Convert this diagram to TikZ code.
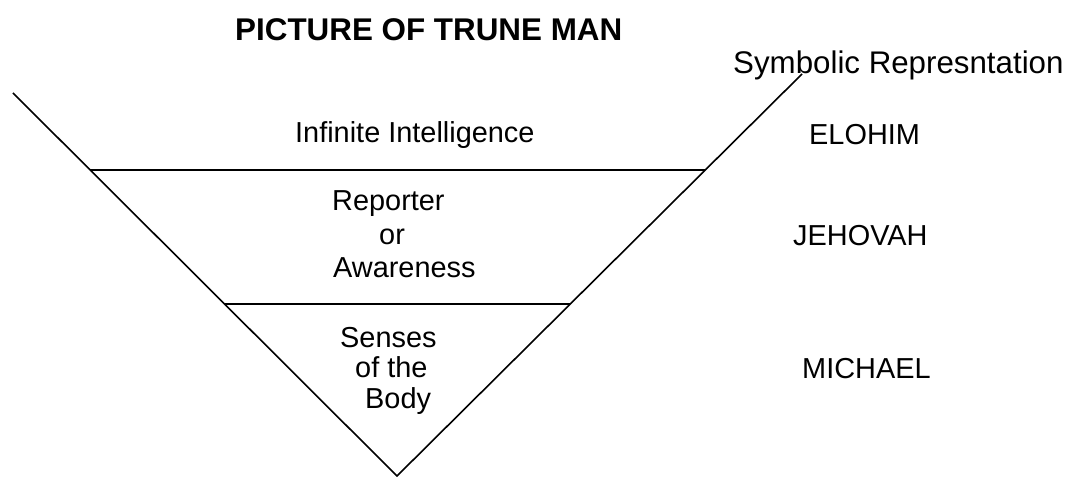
\documentclass[tikz,border=0pt]{standalone}
\usepackage{fontspec}
\setmainfont{Liberation Sans}
\begin{document}
\begin{tikzpicture}[x=1bp,y=-1bp,
  edge/.style={line width=1.6bp,black},
  body/.style={anchor=base west,inner sep=0pt,font=\fontsize{29}{34}\selectfont},
  heading/.style={anchor=base west,inner sep=0pt,font=\fontsize{31.5}{36}\selectfont\bfseries},
  sidehead/.style={anchor=base west,inner sep=0pt,font=\fontsize{31.4}{36}\selectfont}]
\useasboundingbox (0,0) rectangle (1084,477);
% the V outline
\coordinate (topL) at (13,93);
\coordinate (tip) at (397,476);
\coordinate (topR) at (802,74);
\draw[edge,line join=miter] (topL) -- (tip) -- (topR);
% the two dividing levels
\coordinate (l1L) at (90.2,170);
\coordinate (l1R) at (705,170);
\coordinate (l2L) at (224.5,304);
\coordinate (l2R) at (570,304);
\draw[edge] (l1L) -- (l1R);
\draw[edge] (l2L) -- (l2R);
% headings
\node[heading] (title) at (235,41) {PICTURE OF TRUNE MAN};
\node[sidehead] (sym) at (733,74) {Symbolic Represntation};
% levels of the figure
\node[body] (inf) at (295,143) {Infinite Intelligence};
\node[body] (rep1) at (332,211) {Reporter};
\node[body] (rep2) at (379,245) {or};
\node[body] (rep3) at (333,278) {Awareness};
\node[body] (sen1) at (340,348) {Senses};
\node[body] (sen2) at (355,378) {of the};
\node[body] (sen3) at (365,408) {Body};
% symbolic names
\node[body] (elohim) at (809,145) {ELOHIM};
\node[body] (jehovah) at (793,246) {JEHOVAH};
\node[body] (michael) at (802,379) {MICHAEL};
\end{tikzpicture}
\end{document}
